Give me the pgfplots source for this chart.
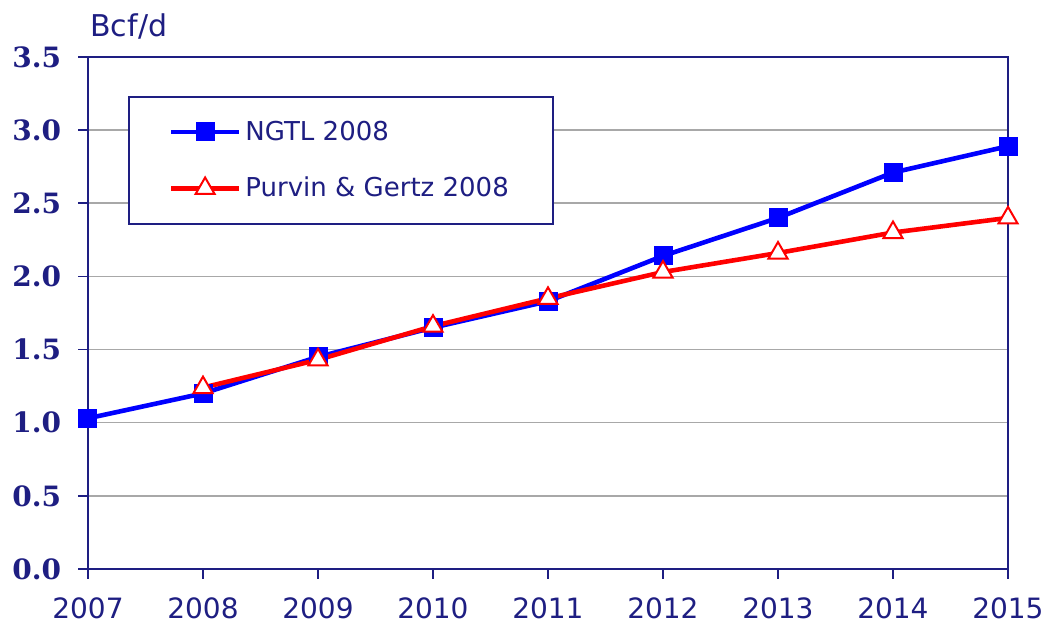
\documentclass[border=0pt]{standalone}
\usepackage{fontspec}
\setmainfont{DejaVu Sans}
\newfontfamily\yfont{DejaVu Serif}
\usepackage{pgfplots}
\pgfplotsset{compat=1.18}
\definecolor{navy}{HTML}{1E1E82}
\definecolor{gridgray}{HTML}{A8A8A8}
\begin{document}
\begin{tikzpicture}
\begin{axis}[
  scale only axis,
  width=460pt, height=256pt,
  xmin=2007, xmax=2015,
  ymin=0, ymax=3.5,
  xtick={2007,...,2015},
  ytick={0,0.5,...,3.5},
  xticklabel style={font=\fontsize{14}{16}\selectfont, text=navy, yshift=-6pt},
  xticklabel={\pgfmathprintnumber[1000 sep={}]{\tick}},
  yticklabel={\yfont\bfseries\pgfmathprintnumber[fixed,fixed zerofill,precision=1]{\tick}},
  yticklabel style={font=\fontsize{14}{16}\selectfont, text=navy, xshift=-5pt},
  /pgf/number format/assume math mode=true,
  axis line style={navy, line width=0.9pt},
  tick style={navy, line width=0.9pt},
  tick align=outside,
  major tick length=5pt,
  xtick pos=bottom, ytick pos=left,
  ymajorgrids,
  grid style={gridgray, line width=0.8pt},
  clip=false,
  legend style={at={(0.0435,0.9238)}, anchor=north west, draw=navy, line width=0.8pt,
    font=\fontsize{13}{15}\selectfont, text=navy, inner xsep=20pt, inner ysep=10pt,
    row sep=13pt, fill=white},
  legend cell align=left,
  legend image code/.code={\draw[mark repeat=2,mark phase=2,#1] plot coordinates {(0pt,0pt) (17pt,0pt) (34pt,0pt)};},
]
\addplot[blue, line width=2.3pt, mark=square*, mark size=4.5pt, mark options={solid, fill=blue, draw=blue, line width=0.5pt}]
  coordinates {(2007,1.03) (2008,1.20) (2009,1.45) (2010,1.65) (2011,1.83) (2012,2.14) (2013,2.40) (2014,2.71) (2015,2.89)};
\addlegendentry{NGTL 2008}
\addplot[red, line width=2.3pt, mark=triangle*, mark size=5.5pt, mark options={solid, fill=white, draw=red, line width=1pt}]
  coordinates {(2008,1.24) (2009,1.43) (2010,1.66) (2011,1.85) (2012,2.03) (2013,2.16) (2014,2.30) (2015,2.40)};
\addlegendentry{Purvin \& Gertz 2008}
\node[anchor=base west, inner sep=0pt, text=navy, font=\fontsize{15}{17}\selectfont] at ([shift={(1pt,10pt)}]rel axis cs:0,1) {Bcf/d};
\coordinate (bl) at (rel axis cs:0,0);
\coordinate (tr) at (rel axis cs:1,1);
\end{axis}
\pgfresetboundingbox
\path[use as bounding box] ([shift={(-44pt,-29pt)}]bl) rectangle ([shift={(20.5pt,28.5pt)}]tr);
\end{tikzpicture}
\end{document}
